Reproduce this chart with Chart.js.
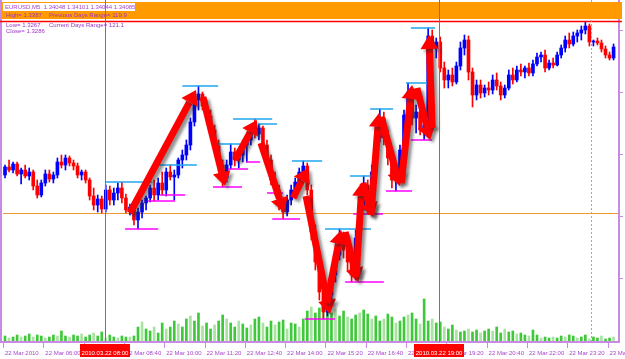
<!DOCTYPE html>
<html>
<head>
<meta charset="utf-8">
<script src="https://cdn.jsdelivr.net/npm/chart.js@4.4.0/dist/chart.umd.min.js"></script>
<style>
  html, body { margin: 0; padding: 0; background: #fff; }
  canvas { display: block; }
</style>
</head>
<body>
<canvas id="chart" width="625" height="359"></canvas>
<script>
// EURUSD M5, 22 Mar 2010 - candles
const opens = [
  1.33258,1.33290,1.33278,1.33302,1.33262,1.33278,1.33254,1.33270,1.33214,1.33178,
  1.33226,1.33262,1.33242,1.33258,1.33310,1.33298,1.33326,1.33306,1.33294,1.33258,
  1.33270,1.33238,1.33174,1.33138,1.33162,1.33122,1.33198,1.33158,1.33186,1.33206,
  1.33166,1.33118,1.33130,1.33078,1.33110,1.33146,1.33166,1.33206,1.33178,1.33226,
  1.33198,1.33270,1.33250,1.33258,1.33318,1.33338,1.33378,1.33470,1.33558,1.33582,
  1.33534,1.33494,1.33438,1.33374,1.33298,1.33246,1.33298,1.33350,1.33318,1.33338,
  1.33378,1.33398,1.33446,1.33422,1.33446,1.33378,1.33318,1.33238,1.33198,1.33138,
  1.33110,1.33158,1.33198,1.33230,1.33270,1.33294,1.33198,1.33030,1.32910,1.32790,
  1.32710,1.32778,1.32858,1.32938,1.33014,1.32958,1.32910,1.32858,1.33006,1.33138,
  1.33218,1.33138,1.33270,1.33406,1.33486,1.33406,1.33326,1.33238,1.33258,1.33358,
  1.33498,1.33590,1.33486,1.33510,1.33438,1.33458,1.33814,1.33766,1.33790,1.33686,
  1.33638,1.33658,1.33630,1.33694,1.33766,1.33798,1.33670,1.33578,1.33618,1.33586,
  1.33606,1.33598,1.33638,1.33614,1.33578,1.33606,1.33658,1.33638,1.33678,1.33670,
  1.33686,1.33666,1.33702,1.33730,1.33738,1.33686,1.33706,1.33698,1.33738,1.33766,
  1.33798,1.33782,1.33814,1.33826,1.33838,1.33854,1.33790,1.33794,1.33786,1.33762,
  1.33738,1.33726
];
const highs = [
  1.33298,1.33318,1.33310,1.33310,1.33286,1.33298,1.33286,1.33278,1.33238,1.33238,
  1.33278,1.33278,1.33270,1.33326,1.33338,1.33338,1.33334,1.33318,1.33306,1.33278,
  1.33278,1.33246,1.33206,1.33178,1.33174,1.33218,1.33214,1.33206,1.33226,1.33230,
  1.33182,1.33142,1.33138,1.33126,1.33158,1.33174,1.33218,1.33238,1.33246,1.33270,
  1.33286,1.33298,1.33278,1.33326,1.33358,1.33398,1.33486,1.33578,1.33614,1.33590,
  1.33558,1.33518,1.33458,1.33398,1.33318,1.33318,1.33382,1.33366,1.33358,1.33398,
  1.33418,1.33458,1.33482,1.33462,1.33454,1.33398,1.33338,1.33270,1.33218,1.33166,
  1.33178,1.33218,1.33246,1.33286,1.33314,1.33306,1.33218,1.33058,1.32938,1.32818,
  1.32806,1.32878,1.32958,1.33042,1.33030,1.32978,1.32938,1.33038,1.33158,1.33254,
  1.33238,1.33298,1.33438,1.33522,1.33510,1.33438,1.33358,1.33278,1.33378,1.33518,
  1.33626,1.33606,1.33538,1.33526,1.33486,1.33846,1.33838,1.33806,1.33810,1.33710,
  1.33678,1.33686,1.33710,1.33790,1.33818,1.33814,1.33686,1.33638,1.33638,1.33618,
  1.33630,1.33658,1.33666,1.33630,1.33618,1.33678,1.33686,1.33694,1.33702,1.33694,
  1.33706,1.33718,1.33746,1.33750,1.33758,1.33718,1.33726,1.33750,1.33778,1.33814,
  1.33826,1.33830,1.33838,1.33854,1.33870,1.33862,1.33798,1.33806,1.33798,1.33774,
  1.33750,1.33782
];
const lows = [
  1.33246,1.33270,1.33266,1.33254,1.33222,1.33246,1.33238,1.33198,1.33166,1.33170,
  1.33214,1.33230,1.33226,1.33246,1.33286,1.33278,1.33294,1.33278,1.33246,1.33238,
  1.33226,1.33158,1.33118,1.33110,1.33106,1.33110,1.33138,1.33138,1.33158,1.33146,
  1.33106,1.33098,1.33058,1.33042,1.33086,1.33118,1.33150,1.33154,1.33158,1.33178,
  1.33174,1.33238,1.33158,1.33246,1.33286,1.33318,1.33358,1.33454,1.33518,1.33518,
  1.33478,1.33418,1.33358,1.33278,1.33210,1.33230,1.33282,1.33294,1.33286,1.33310,
  1.33310,1.33378,1.33406,1.33398,1.33358,1.33298,1.33218,1.33178,1.33118,1.33082,
  1.33094,1.33138,1.33174,1.33206,1.33246,1.33178,1.32998,1.32878,1.32758,1.32682,
  1.32694,1.32758,1.32830,1.32918,1.32926,1.32878,1.32830,1.32838,1.32978,1.33118,
  1.33102,1.33118,1.33246,1.33390,1.33378,1.33298,1.33206,1.33194,1.33230,1.33338,
  1.33478,1.33458,1.33426,1.33418,1.33398,1.33438,1.33738,1.33726,1.33670,1.33606,
  1.33606,1.33614,1.33622,1.33678,1.33738,1.33638,1.33530,1.33558,1.33566,1.33570,
  1.33578,1.33582,1.33598,1.33558,1.33566,1.33598,1.33622,1.33630,1.33654,1.33646,
  1.33654,1.33654,1.33694,1.33710,1.33670,1.33678,1.33686,1.33694,1.33726,1.33750,
  1.33766,1.33774,1.33790,1.33798,1.33822,1.33774,1.33774,1.33778,1.33750,1.33726,
  1.33718,1.33718
];
const closes = [
  1.33290,1.33278,1.33302,1.33262,1.33278,1.33254,1.33270,1.33214,1.33178,1.33226,
  1.33262,1.33242,1.33258,1.33310,1.33298,1.33326,1.33306,1.33294,1.33258,1.33270,
  1.33238,1.33174,1.33138,1.33162,1.33122,1.33198,1.33158,1.33186,1.33206,1.33166,
  1.33118,1.33130,1.33078,1.33110,1.33146,1.33166,1.33206,1.33178,1.33226,1.33198,
  1.33270,1.33250,1.33258,1.33318,1.33338,1.33378,1.33470,1.33558,1.33582,1.33534,
  1.33494,1.33438,1.33374,1.33298,1.33246,1.33298,1.33350,1.33318,1.33338,1.33378,
  1.33398,1.33446,1.33422,1.33446,1.33378,1.33318,1.33238,1.33198,1.33138,1.33110,
  1.33158,1.33198,1.33230,1.33270,1.33294,1.33198,1.33030,1.32910,1.32790,1.32710,
  1.32778,1.32858,1.32938,1.33014,1.32958,1.32910,1.32858,1.33006,1.33138,1.33218,
  1.33138,1.33270,1.33406,1.33486,1.33406,1.33326,1.33238,1.33258,1.33358,1.33498,
  1.33590,1.33486,1.33510,1.33438,1.33458,1.33814,1.33766,1.33790,1.33686,1.33638,
  1.33658,1.33630,1.33694,1.33766,1.33798,1.33670,1.33578,1.33618,1.33586,1.33606,
  1.33598,1.33638,1.33614,1.33578,1.33606,1.33658,1.33638,1.33678,1.33670,1.33686,
  1.33666,1.33702,1.33730,1.33738,1.33686,1.33706,1.33698,1.33738,1.33766,1.33798,
  1.33782,1.33814,1.33826,1.33838,1.33854,1.33790,1.33794,1.33786,1.33762,1.33738,
  1.33726,1.33770
];
const volumes = [
  5,3,4,6,4,5,7,4,6,5, 3,4,6,5,10,5,4,6,5,7, 4,6,8,5,9,3,6,4,3,5,
  4,4,5,14,19,12,10,14,8,18, 12,14,20,17,14,22,25,20,28,15, 18,12,16,20,26,22,18,14,20,17,
  13,16,22,24,18,14,20,16,19,21, 12,18,17,14,22,30,34,28,33,30, 35,28,32,25,30,24,22,26,28,31,
  27,22,25,20,22,27,24,18,20,24, 26,28,22,17,42,20,22,18,19,14, 12,16,11,9,10,12,9,11,8,10,
  12,10,14,8,12,9,10,7,8,6, 5,11,6,3,4,3,4,3,5,4, 6,5,3,4,6,2,4,3,5,2, 3,4
];

// time axis
const timeTickIdx = [0,10,20,30,40,50,60,70,80,90,100,110,120,130,140,150];
const timeLabels = ['22 Mar 2010','22 Mar 06:00','22 Mar 07:20','22 Mar 08:40','22 Mar 10:00',
  '22 Mar 11:20','22 Mar 12:40','22 Mar 14:00','22 Mar 15:20','22 Mar 16:40','22 Mar 18:00',
  '22 Mar 19:20','22 Mar 20:40','22 Mar 22:00','22 Mar 23:20','23 Mar 00:40'];

// swing levels: [from candle, to candle, price]
const swingHighs = [
  [24.8,36.5,1.33230],[38,47.6,1.33298],[44,52.9,1.33614],[52.9,58.3,1.33382],
  [56.6,66.3,1.33482],[62.8,67.5,1.33462],[71.2,78.7,1.33314],[79.4,90.8,1.33042],
  [85.6,91.6,1.33254],[90.6,96.3,1.33522],[99.5,104.7,1.33626],[100.7,106.7,1.33846]
];
const swingLows = [
  [29.8,38,1.33042],[35.5,42.2,1.33154],[38.5,44.7,1.33178],[51.6,58.8,1.33210],
  [55.3,60.3,1.33282],[59.8,63.3,1.33310],[65,69,1.33186],[66.3,73.2,1.33082],
  [74.4,81.9,1.32682],[84.4,94,1.32830],[86.4,93.8,1.33102],[94.5,101,1.33194],
  [100.7,106,1.33398]
];

// hand drawn arrows: [from candle, from price, to candle, to price]
const arrows = [
  [31.0,1.33106,47.4,1.33598],[49.1,1.33570,54.6,1.33214],[57.1,1.33318,62.5,1.33478],
  [63.5,1.33386,69.2,1.33110],[71.5,1.33166,75.2,1.33286],[74.7,1.33174,80.6,1.32702],
  [79.9,1.32746,83.4,1.33038],[84.4,1.33030,87.6,1.32830],[87.1,1.32850,88.6,1.33230],
  [88.8,1.33226,91.3,1.33090],[90.8,1.33098,92.8,1.33506],[93.3,1.33490,98.0,1.33214],
  [98.3,1.33226,101.0,1.33618],[102.2,1.33606,105.5,1.33398],[106.0,1.33446,105.2,1.33818]
];

const dayHigh = 1.33870;
const hLine = 1.33106;
const sessionMarks = [[24.8,'2010.03.22 08:00'],[107.7,'2010.03.22 19:00']];
const cursorIdx = 145.4;

const headerLine = 'EURUSD,M5  1.34048 1.34101 1.34044 1.34085';
const infoRows = [
  ['High= 1.3387', 'Previous Days Range= 119.9'],
  ['Low= 1.3267', 'Current Days Range= 121.1'],
  ['Close= 1.3286', '']
];

const idx = closes.map((_, i) => i);
const candleColor = idx.map(i => closes[i] >= opens[i] ? '#0000ff' : '#ff0000');

function levelSets(list, color) {
  return list.map(([a, b, p]) => ({
    type: 'line', data: [{x: a, y: p}, {x: b, y: p}],
    borderColor: color, borderWidth: 1.5, pointRadius: 0, yAxisID: 'y', order: 1
  }));
}

const overlay = {
  id: 'overlay',
  beforeDatasetsDraw(chart) {
    const {ctx, chartArea: a, scales: {y}} = chart;
    ctx.save();
    ctx.strokeStyle = '#f29a30';
    ctx.lineWidth = 1;
    const py = Math.round(y.getPixelForValue(hLine)) + 0.5;
    ctx.beginPath(); ctx.moveTo(a.left, py); ctx.lineTo(a.right, py); ctx.stroke();
    ctx.restore();
  },
  afterDatasetsDraw(chart) {
    const {ctx, scales: {x, y}} = chart;
    ctx.save();
    ctx.shadowColor = 'rgba(40,40,40,0.5)';
    ctx.shadowBlur = 3;
    ctx.shadowOffsetX = 3;
    ctx.shadowOffsetY = 3;
    ctx.strokeStyle = '#ff0000';
    ctx.fillStyle = '#ff0000';
    ctx.lineWidth = 7;
    arrows.forEach(([i1, p1, i2, p2]) => {
      const x1 = x.getPixelForValue(i1), y1 = y.getPixelForValue(p1);
      const x2 = x.getPixelForValue(i2), y2 = y.getPixelForValue(p2);
      const ang = Math.atan2(y2 - y1, x2 - x1);
      const hl = 14, hw = 9;
      const bx = x2 - hl * Math.cos(ang), by = y2 - hl * Math.sin(ang);
      ctx.beginPath(); ctx.moveTo(x1, y1); ctx.lineTo(bx, by); ctx.stroke();
      ctx.beginPath();
      ctx.moveTo(x2, y2);
      ctx.lineTo(bx + hw * Math.sin(ang), by - hw * Math.cos(ang));
      ctx.lineTo(bx - hw * Math.sin(ang), by + hw * Math.cos(ang));
      ctx.closePath(); ctx.fill();
    });
    ctx.restore();
  },
  afterDraw(chart) {
    const {ctx, scales: {x, y}} = chart;
    ctx.save();
    const purple = '#c98ae6';

    // frame + time axis
    ctx.strokeStyle = purple;
    ctx.lineWidth = 2;
    ctx.beginPath();
    ctx.moveTo(1, 0); ctx.lineTo(1, 343);
    ctx.moveTo(0, 342); ctx.lineTo(620, 342);
    ctx.moveTo(619, 0); ctx.lineTo(619, 343);
    ctx.stroke();
    ctx.lineWidth = 1;
    ctx.beginPath();
    timeTickIdx.forEach(t => {
      const px = Math.round(x.getPixelForValue(t - 0.5)) + 0.5;
      ctx.moveTo(px, 343); ctx.lineTo(px, 348);
    });
    for (let py = 30; py < 340; py += 62) { ctx.moveTo(619, py + 0.5); ctx.lineTo(623, py + 0.5); }
    ctx.stroke();

    ctx.font = '6px "Liberation Sans"';
    ctx.fillStyle = '#a646cc';
    ctx.textBaseline = 'alphabetic';
    timeTickIdx.forEach((t, k) => {
      ctx.fillText(timeLabels[k], x.getPixelForValue(t - 0.5) + 2, 355);
    });
    sessionMarks.forEach(([i, label]) => {
      const px = x.getPixelForValue(i);
      const w = ctx.measureText(label).width + 3;
      ctx.fillStyle = '#ff0000';
      ctx.fillRect(Math.round(px - w / 2), 344, Math.round(w), 13);
      ctx.fillStyle = '#ffffff';
      ctx.textAlign = 'center';
      ctx.fillText(label, px, 355);
      ctx.textAlign = 'left';
    });

    // info banner
    ctx.fillStyle = '#ff9a00';
    ctx.fillRect(2, 2, 620, 17);
    ctx.fillStyle = '#ffffff';
    ctx.fillRect(3, 3, 132, 8);
    ctx.fillStyle = '#a646cc';
    ctx.fillText(headerLine, 5, 9);
    ctx.fillStyle = '#9c35c8';
    infoRows.forEach(([l, r], k) => {
      const by = [17, 27, 33][k];
      ctx.fillText(l, 6, by);
      if (r) ctx.fillText(r, 49, by);
    });

    // day high line
    ctx.strokeStyle = '#ff0000';
    ctx.lineWidth = 1.5;
    const hy = Math.round(y.getPixelForValue(dayHigh)) - 0.5;
    ctx.beginPath(); ctx.moveTo(0, hy); ctx.lineTo(622, hy); ctx.stroke();

    // session separators
    ctx.lineWidth = 1;
    ctx.strokeStyle = '#ff3c3c';
    sessionMarks.forEach(([i]) => {
      const px = Math.round(x.getPixelForValue(i)) + 0.5;
      ctx.beginPath(); ctx.moveTo(px, 0); ctx.lineTo(px, 342); ctx.stroke();
    });
    ctx.strokeStyle = purple;
    ctx.setLineDash([2, 2]);
    const cx = Math.round(x.getPixelForValue(cursorIdx)) + 0.5;
    ctx.beginPath(); ctx.moveTo(cx, 0); ctx.lineTo(cx, 342); ctx.stroke();
    ctx.restore();
  }
};

new Chart(document.getElementById('chart'), {
  type: 'bar',
  data: {
    datasets: [
      {
        label: 'body', data: idx.map(i => ({x: i, y: [opens[i], closes[i]]})),
        backgroundColor: candleColor, barThickness: 3, minBarLength: 1,
        grouped: false, yAxisID: 'y', order: 2
      },
      {
        label: 'wick', data: idx.map(i => ({x: i, y: [lows[i], highs[i]]})),
        backgroundColor: candleColor, barThickness: 1,
        grouped: false, yAxisID: 'y', order: 3
      },
      {
        label: 'volume', data: idx.map(i => ({x: i, y: volumes[i]})),
        backgroundColor: idx.map(i => i % 3 === 1 ? '#a9e2a2' : '#3fc83a'),
        barThickness: 2, grouped: false, yAxisID: 'yv', order: 5
      },
      ...levelSets(swingHighs, '#1ea6ee'),
      ...levelSets(swingLows, '#ff00ff')
    ]
  },
  options: {
    responsive: false,
    animation: false,
    devicePixelRatio: 1,
    layout: { padding: { left: 3, right: 7, top: 0, bottom: 18 } },
    plugins: { legend: { display: false }, tooltip: { enabled: false } },
    scales: {
      x: { type: 'linear', min: -0.5, max: 152.1, offset: false, display: false },
      y: { min: 1.32594, max: 1.33958, display: false },
      yv: { min: 0, max: 341, display: false }
    }
  },
  plugins: [overlay]
});
</script>
</body>
</html>
